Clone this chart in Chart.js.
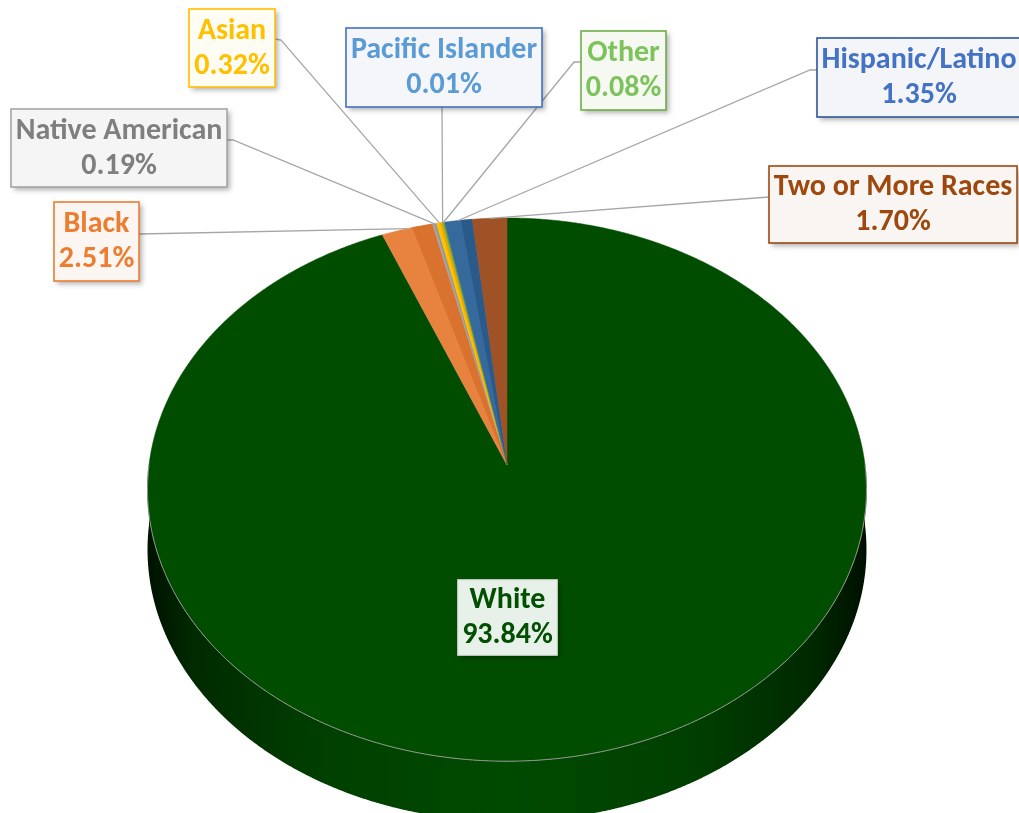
<!DOCTYPE html>
<html lang="en">
<head>
    <meta charset="UTF-8">
    <title>Population by Race</title>
    <script src="https://cdn.jsdelivr.net/npm/chart.js@4.4.1/dist/chart.umd.min.js"></script>
    <style>
        body { margin: 0; background: #fff; }
    </style>
</head>
<body>
    <canvas id="raceChart" width="1019" height="813"></canvas>
    <script>
        // data
        const labels = ['White', 'Black', 'Native American', 'Asian', 'Pacific Islander', 'Other', 'Hispanic/Latino', 'Two or More Races'];
        const values = [93.84, 2.51, 0.19, 0.32, 0.01, 0.08, 1.35, 1.70];

        // styling
        const sliceColors = ['#004d00', '#e8833f', '#a5a5a5', '#ffc000', '#5b9bd5', '#70ad47', '#36699c', '#9f5226'];
        const wallColors = ['#004d00', '#d8722e', '#939393', '#e0aa00', '#4a86bd', '#5c9639', '#2a5a8a', '#9f5226'];
        const textColors = ['#005000', '#ed7d31', '#7f7f7f', '#ffc000', '#5b9bd5', '#7dc35b', '#4472c4', '#9e480e'];
        const borderColors = ['#e0e8e0', '#ed7d31', '#a5a5a5', '#ffc000', '#4472c4', '#70ad47', '#2f5597', '#9e480e'];
        const boxFills = ['#e8f0ea', '#fbf6f2', '#f5f5f5', '#fffcf4', '#f4f6fa', '#f5f9f2', '#f3f5f8', '#f8f5f2'];
        // label box layout: x, y, w, h, and where the leader line leaves the box
        const boxes = [
            [458, 580, 99, 75, null],
            [54, 202, 85, 79, [[139, 234]]],
            [11, 109, 216, 78, [[227, 140], [233, 140]]],
            [189, 9, 86, 78, [[275, 39], [281, 40]]],
            [346, 28, 196, 79, [[442, 107]]],
            [581, 31, 85, 79, [[581, 62], [574, 62]]],
            [817, 38, 204, 79, [[817, 70], [810, 70]]],
            [769, 166, 248, 77, [[769, 197]]]
        ];

        // 3d projection of the pie top face
        const CX = 507, CY = 465, A = 358, B = 269.4, G = -0.0905, DEPTH = 60;
        const FONT = 'bold 30px Carlito, Lato, sans-serif';

        function proj(a, dy) {
            const u = Math.cos(a), v = Math.sin(a);
            const w = 1 + G * v;
            return [CX + A * u / w, CY + B * v / w + (dy || 0)];
        }

        function rim(ctx, a0, a1, dy, first) {
            const n = Math.max(2, Math.ceil(Math.abs(a1 - a0) / 0.004));
            for (let i = 0; i <= n; i++) {
                const p = proj(a0 + (a1 - a0) * i / n, dy);
                if (i === 0 && first) ctx.moveTo(p[0], p[1]); else ctx.lineTo(p[0], p[1]);
            }
        }

        const pie3d = {
            id: 'pie3d',
            beforeDatasetsDraw(chart) {
                const ctx = chart.ctx;
                const arcs = chart.getDatasetMeta(0).data;
                ctx.save();

                // side wall (front half)
                const grad = ctx.createLinearGradient(CX - A, 0, CX + A, 0);
                grad.addColorStop(0, '#001200');
                grad.addColorStop(0.06, '#002a00');
                grad.addColorStop(0.25, '#004000');
                grad.addColorStop(0.5, '#004a00');
                grad.addColorStop(0.75, '#004000');
                grad.addColorStop(0.93, '#002800');
                grad.addColorStop(1, '#001000');
                arcs.forEach((arc, i) => {
                    const a0 = Math.max(arc.startAngle, 0), a1 = Math.min(arc.endAngle, Math.PI);
                    if (a1 <= a0) return;
                    ctx.beginPath();
                    rim(ctx, a0, a1, 0, true);
                    rim(ctx, a1, a0, DEPTH, false);
                    ctx.closePath();
                    ctx.fillStyle = i === 0 ? grad : sliceColors[i];
                    ctx.fill();
                });

                // top faces
                arcs.forEach((arc, i) => {
                    ctx.beginPath();
                    ctx.moveTo(CX, CY);
                    rim(ctx, arc.startAngle, arc.endAngle, 0, false);
                    ctx.closePath();
                    ctx.fillStyle = sliceColors[i];
                    ctx.fill();
                    ctx.strokeStyle = sliceColors[i];
                    ctx.lineWidth = 0.5;
                    ctx.stroke();
                });

                // shaded inner part of the small slices
                arcs.forEach((arc, i) => {
                    if (i === 0) return;
                    const mid = arc.startAngle + (arc.endAngle - arc.startAngle) * 0.6;
                    ctx.beginPath();
                    ctx.moveTo(CX, CY);
                    rim(ctx, mid, arc.endAngle, 0, false);
                    ctx.closePath();
                    ctx.fillStyle = wallColors[i];
                    ctx.fill();
                });

                // rim highlight on the front edge
                ctx.beginPath();
                rim(ctx, 0, Math.PI, 0, true);
                ctx.strokeStyle = '#9a9a9a';
                ctx.lineWidth = 1;
                ctx.stroke();

                // leader lines
                ctx.strokeStyle = '#a6a6a6';
                ctx.lineWidth = 1.3;
                arcs.forEach((arc, i) => {
                    const pts = boxes[i][4];
                    if (!pts) return;
                    const end = proj((arc.startAngle + arc.endAngle) / 2, 0);
                    ctx.beginPath();
                    ctx.moveTo(pts[0][0], pts[0][1]);
                    pts.slice(1).forEach(p => ctx.lineTo(p[0], p[1]));
                    ctx.lineTo(end[0], end[1]);
                    ctx.stroke();
                });

                // label boxes
                ctx.font = FONT;
                ctx.textAlign = 'center';
                ctx.textBaseline = 'middle';
                labels.forEach((name, i) => {
                    const [x, y, w, h] = boxes[i];
                    ctx.save();
                    ctx.shadowColor = 'rgba(0,0,0,0.3)';
                    ctx.shadowBlur = 5;
                    ctx.shadowOffsetX = 3;
                    ctx.shadowOffsetY = 3;
                    ctx.fillStyle = boxFills[i];
                    ctx.fillRect(x, y, w, h);
                    ctx.restore();
                    ctx.strokeStyle = borderColors[i];
                    ctx.lineWidth = 1.6;
                    ctx.strokeRect(x, y, w, h);
                    ctx.fillStyle = textColors[i];
                    ctx.fillText(name, x + w / 2, y + h / 2 - 17);
                    ctx.fillText(values[i].toFixed(2) + '%', x + w / 2, y + h / 2 + 18);
                });

                ctx.restore();
                return false;
            }
        };

        new Chart(document.getElementById('raceChart').getContext('2d'), {
            type: 'pie',
            data: {
                labels: labels,
                datasets: [{
                    data: values,
                    backgroundColor: sliceColors,
                    borderWidth: 0
                }]
            },
            options: {
                responsive: false,
                animation: false,
                events: [],
                plugins: {
                    legend: { display: false },
                    tooltip: { enabled: false }
                }
            },
            plugins: [pie3d]
        });
    </script>
</body>
</html>
